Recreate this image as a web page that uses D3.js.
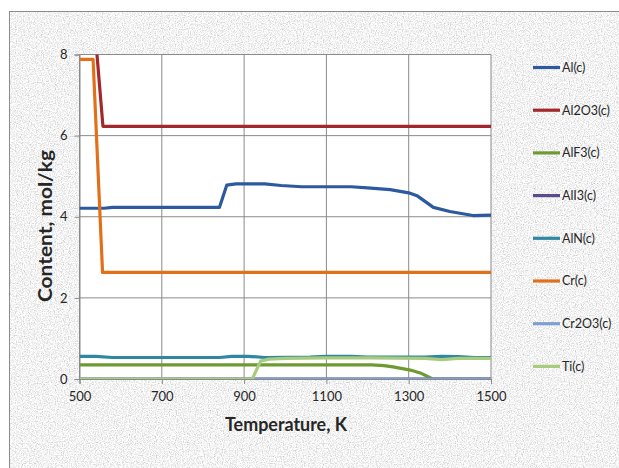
<!DOCTYPE html>
<html>
<head>
<meta charset="utf-8">
<script src="https://cdn.jsdelivr.net/npm/d3@7"></script>
<style>
  body { margin: 0; background: #fff; }
  svg { display: block; }
  text { font-family: Lato, "Open Sans", sans-serif; fill: #262626; }
</style>
</head>
<body>
<div id="chart"></div>
<script>
// series data, [temperature K, content mol/kg]
let alC = [[500,4.21],[560,4.21],[580,4.23],[840,4.23],[858,4.78],[880,4.81],[950,4.81],[990,4.77],[1040,4.74],[1160,4.74],[1200,4.71],[1255,4.67],[1300,4.59],[1320,4.52],[1360,4.23],[1400,4.13],[1456,4.03],[1500,4.04]];
let al2o3C = [[500,8.3],[540,8.3],[557,6.23],[1500,6.23]];
let alf3C = [[500,0.35],[1210,0.35],[1240,0.33],[1262,0.30],[1304,0.22],[1328,0.15],[1352,0.03],[1358,0],[1500,0]];
let ali3C = [[500,0],[1500,0]];
let alnC = [[500,0.56],[540,0.56],[580,0.53],[840,0.53],[870,0.56],[910,0.56],[950,0.53],[1060,0.54],[1100,0.56],[1160,0.56],[1200,0.54],[1340,0.54],[1380,0.56],[1420,0.55],[1460,0.53],[1500,0.53]];
let crC = [[500,7.88],[533,7.88],[556,2.63],[1500,2.63]];
let cr2o3C = [[500,0],[1500,0]];
let tiC = [[500,0],[920,0],[940,0.44],[960,0.49],[1000,0.51],[1100,0.52],[1200,0.52],[1340,0.51],[1380,0.48],[1420,0.51],[1500,0.51]];

let seriesNames = ["Al(c)","Al2O3(c)","AlF3(c)","AlI3(c)","AlN(c)","Cr(c)","Cr2O3(c)","Ti(c)"];
let seriesData = [alC, al2o3C, alf3C, ali3C, alnC, crC, cr2o3C, tiC];
let seriesColors = ["#2d5a9e","#a3282d","#6f9a32","#5d4a8a","#2f87a3","#e2701b","#7f9fd3","#a8cc7e"];

let xTicks = [500,700,900,1100,1300,1500];
let yTicks = [0,2,4,6,8];

let width = 619, height = 468;
let margin = {top:54.5, left:79.5, right:128, bottom:89};

let svg = d3.select("#chart").append("svg")
	.attr("width", width)
	.attr("height", height);

let defs = svg.append("defs");
let filt = defs.append("filter").attr("id","paper")
	.attr("x",0).attr("y",0).attr("width","100%").attr("height","100%");
filt.append("feTurbulence")
	.attr("type","fractalNoise")
	.attr("baseFrequency","0.85")
	.attr("numOctaves",2)
	.attr("seed",4);
filt.append("feColorMatrix")
	.attr("type","matrix")
	.attr("values","0.9 0 0 0 0.45  0.9 0 0 0 0.45  0.9 0 0 0 0.45  0 0 0 0 1");

defs.append("clipPath").attr("id","clip")
	.append("rect")
	.attr("x", margin.left).attr("y", margin.top)
	.attr("width", width - margin.right - margin.left)
	.attr("height", height - margin.bottom - margin.top);

// textured chart background
svg.append("rect")
	.attr("x",9.5).attr("y",11.5)
	.attr("width",width).attr("height",height)
	.attr("filter","url(#paper)");
svg.append("rect")
	.attr("x",9.5).attr("y",11.5)
	.attr("width",width).attr("height",height)
	.attr("fill","none")
	.attr("stroke","#8c8c8c");

let x = d3.scaleLinear()
	.domain([500,1500])
	.range([margin.left, width - margin.right]);
let y = d3.scaleLinear()
	.domain([0,8])
	.range([height - margin.bottom, margin.top]);

// plot area
svg.append("rect")
	.attr("x", x(500)).attr("y", y(8))
	.attr("width", x(1500)-x(500)).attr("height", y(0)-y(8))
	.attr("fill","#fff");

// gridlines
svg.append("g").selectAll("line")
	.data(yTicks).enter().append("line")
	.attr("x1", x(500)).attr("x2", x(1500))
	.attr("y1", d=>y(d)).attr("y2", d=>y(d))
	.attr("stroke","#8a8a8a");
svg.append("g").selectAll("line")
	.data(xTicks).enter().append("line")
	.attr("x1", d=>x(d)).attr("x2", d=>x(d))
	.attr("y1", y(0)).attr("y2", y(8))
	.attr("stroke","#8a8a8a");

let xaxis = d3.axisBottom(x)
	.tickValues(xTicks)
	.tickSize(5)
	.tickFormat(d3.format("d"));
let yaxis = d3.axisLeft(y)
	.tickValues(yTicks)
	.tickSize(5)
	.tickFormat(d3.format("d"));

let gx = svg.append("g")
	.attr("transform","translate(0," + y(0) + ")")
	.call(xaxis);
let gy = svg.append("g")
	.attr("transform","translate(" + x(500) + ",0)")
	.call(yaxis);
[gx, gy].forEach(g=>{
	g.select(".domain").attr("stroke","#8a8a8a");
	g.selectAll(".tick line").attr("stroke","#8a8a8a");
	g.selectAll(".tick text")
		.style("font-family","Lato, 'Open Sans', sans-serif")
		.attr("font-size","13px")
		.attr("fill","#262626");
});
gx.selectAll(".tick text").attr("dy","1.1em");
gy.selectAll(".tick text").attr("dx","-0.3em");

// series lines
let line = d3.line()
	.x(d=>x(d[0]))
	.y(d=>y(d[1]));

svg.append("g")
	.attr("clip-path","url(#clip)")
	.selectAll("path")
	.data(seriesData).enter().append("path")
	.attr("d", line)
	.attr("fill","none")
	.attr("stroke", (d,i)=>seriesColors[i])
	.attr("stroke-width",3.2)
	.attr("stroke-linejoin","round");

// axis titles
svg.append("text")
	.attr("x", 286)
	.attr("y", 431)
	.attr("text-anchor","middle")
	.attr("font-size","19px")
	.attr("font-weight","bold")
	.attr("fill","#111")
	.attr("textLength",122)
	.attr("lengthAdjust","spacingAndGlyphs")
	.text("Temperature, K");

svg.append("text")
	.attr("transform","rotate(-90)")
	.attr("x", -226)
	.attr("y", 52)
	.attr("text-anchor","middle")
	.attr("font-size","19px")
	.attr("font-weight","bold")
	.attr("fill","#111")
	.attr("textLength",152)
	.attr("lengthAdjust","spacingAndGlyphs")
	.text("Content, mol/kg");

// legend
let legend = svg.append("g").selectAll("g")
	.data(seriesNames).enter().append("g")
	.attr("transform", (d,i)=>"translate(533," + (67.5 + i*42.7) + ")");
legend.append("line")
	.attr("x1",0).attr("x2",27)
	.attr("stroke", (d,i)=>seriesColors[i])
	.attr("stroke-width",3.2);
legend.append("text")
	.attr("x",29)
	.attr("dy","0.35em")
	.attr("font-size","12.5px")
	.attr("fill","#262626")
	.text(d=>d);
</script>
</body>
</html>
